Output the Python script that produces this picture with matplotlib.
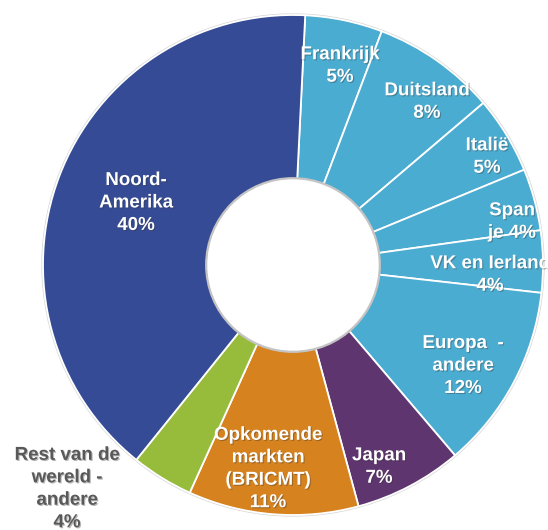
import matplotlib
matplotlib.use("Agg")
import matplotlib.pyplot as plt
import matplotlib.patheffects as pe

# Data
categories = ["Frankrijk", "Duitsland", "Italië", "Spanje", "VK en Ierland",
              "Europa - andere", "Japan", "Opkomende markten (BRICMT)",
              "Rest van de wereld - andere", "Noord-Amerika"]
values = [5, 8, 5, 4, 4, 12, 7, 11, 4, 40]
label_texts = ["Frankrijk\n5%", "Duitsland\n8%", "Italië\n5%", "Span\nje 4%",
               "VK en Ierland\n4%", "Europa  -\nandere\n12%", "Japan\n7%",
               "Opkomende\nmarkten\n(BRICMT)\n11%", "Rest van de\nwereld -\nandere\n4%",
               "Noord-\nAmerika\n40%"]

# Styles / layout (pixel positions, y from top)
colors = ["#4BACD1", "#4BACD1", "#4BACD1", "#4BACD1", "#4BACD1", "#4BACD1",
          "#5E356F", "#D6821F", "#97BC3B", "#354B95"]
label_pos = [(340, 66), (427, 102), (487, 157), (512, 222), (490, 275),
             (463, 366), (379, 467), (268, 469), (67, 489), (136, 203)]
label_colors = ["white"] * 8 + ["#595959", "white"]

W, H = 548, 530
fig = plt.figure(figsize=(W / 100, H / 100), dpi=100)
ax = fig.add_axes([0, 0, 1, 1])

cx, cy, R = 293, 265, 250
hole = 86
wedges, _ = ax.pie(values, colors=colors, startangle=87.2, counterclock=False,
                   radius=R, center=(cx, H - cy),
                   wedgeprops=dict(width=R - hole, edgecolor="white", linewidth=1.3))
ax.set_xlim(0, W)
ax.set_ylim(0, H)
ax.set_aspect("auto")
ax.axis("off")

# subtle shadows around hole and outer rim
ax.add_patch(plt.Circle((cx, H - cy), hole + 0.8, facecolor="none",
                        edgecolor="#c4c4c4", linewidth=1.6, zorder=5))
ax.add_patch(plt.Circle((cx, H - cy), R + 0.8, facecolor="none",
                        edgecolor="#d8d8d8", linewidth=1.2, zorder=0))

for txt, (x, y), col in zip(label_texts, label_pos, label_colors):
    t = ax.text(x, H - y, txt, ha="center", va="center", color=col,
                fontsize=13.5, fontweight="bold", family="Liberation Sans",
                linespacing=1.42, zorder=10)
    t.set_path_effects([pe.withSimplePatchShadow(offset=(0.8, -0.8),
                                                  shadow_rgbFace="#333333", alpha=0.35)])

fig.savefig("out.png", dpi=100)
